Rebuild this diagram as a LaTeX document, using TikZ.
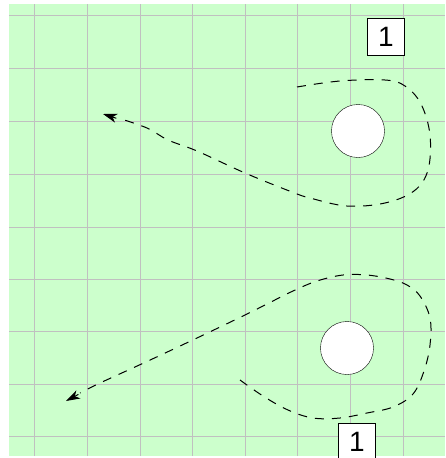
\documentclass[tikz,border=0pt]{standalone}
\usepackage{fontspec}
\setsansfont{Liberation Sans}
\usetikzlibrary{arrows.meta,calc}

\definecolor{paper}{HTML}{CCFFCC}
\definecolor{gridline}{HTML}{C0C0C0}

\begin{document}
\begin{tikzpicture}[x=1pt, y=-1pt, font=\sffamily,
    hole/.style={circle, draw, fill=white, thin, minimum size=53pt, inner sep=0pt},
    tag/.style={draw, fill=white, line width=0.9pt, minimum size=37pt, inner sep=0pt, font=\sffamily\fontsize{28}{28}\selectfont},
    path/.style={draw, line width=1pt, dash pattern=on 9pt off 8pt},
    tip/.style={draw, solid, line width=1pt, -{Stealth[length=14pt,width=9pt,inset=4pt]}}
    ]

    \useasboundingbox (0,0) rectangle (445,458);
    \fill[paper] (9,4) rectangle (445,456);

    % grid
    \foreach \x in {34.5,87.5,140.5,192.5,245.5,297.5,350.5,403.5}
        \draw[gridline, line width=1.5pt] (\x,4) -- (\x,456);
    \foreach \y in {15.5,68.5,121.5,174.5,227.5,279.5,331.5,384.5,436.5}
        \draw[gridline, line width=1.5pt] (9,\y) -- (445,\y);

    \node[hole] (upper) at (358,131) {};
    \node[hole] (lower) at (347,348) {};

    \node[tag] (upper tag) at (386,37) {1};
    \node[tag] (lower tag) at (357,442) {1};

    \coordinate (upper end) at (103,114);
    \coordinate (lower end) at (66,401);

    \draw[path] plot[smooth, tension=0.6] coordinates {(297,87) (340,81) (385,80) (405,86) (421,104) (430,135) (428,170) (414,191) (385,203) (347,206) (310,198) (292,192) (245,173) (197,151) (168,140) (147,128) (118,118)};
    \draw[tip] ($(upper end)!14pt!(147,128)$) -- (upper end);
    \draw[path] plot[smooth, tension=0.6] coordinates {(240,380) (263,396) (288,410) (313,418) (340,418) (367,413) (393,407) (413,394) (424,371) (430,345) (430,318) (420,296) (407,285) (390,279) (367,275) (343,275) (317,281) (293,291) (267,304) (245,315) (197,338) (148,361) (100,383) (80,393)};
    \draw[tip] ($(lower end)!14pt!(100,383)$) -- (lower end);
    %
\end{tikzpicture}
\end{document}
